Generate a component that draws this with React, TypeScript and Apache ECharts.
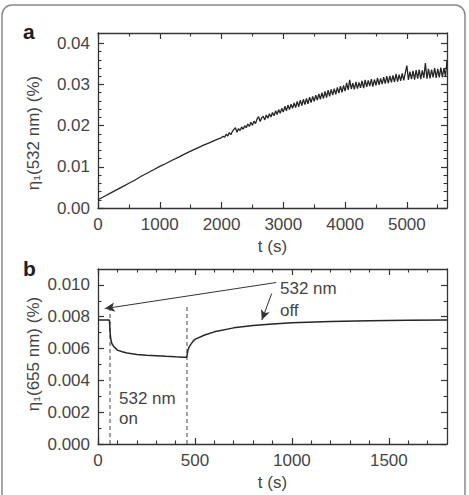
import React, { useEffect, useRef } from "react";
import * as echarts from "echarts";

// Panel a: diffraction efficiency at 532 nm vs time
const aTimesEarly = [0, 100, 200, 300, 400, 500, 600, 700, 800, 900, 1000, 1100, 1200, 1300, 1400, 1500, 1600, 1700, 1800, 1900];
const aValuesEarly = [0.0020, 0.0028, 0.0036, 0.0044, 0.0052, 0.0060, 0.0068, 0.0077, 0.0085, 0.0093, 0.0101, 0.0108, 0.0116, 0.0123, 0.0131, 0.0138, 0.0145, 0.0152, 0.0158, 0.0165];
const aLateStart = 2000;
const aLateStep = 25;
const aValuesLate = [
  0.0171, 0.0174, 0.0172, 0.0179, 0.0175, 0.0183, 0.0178, 0.0186, 0.0191, 0.0195,
  0.0184, 0.0193, 0.0188, 0.0197, 0.0191, 0.0200, 0.0195, 0.0204, 0.0198, 0.0208,
  0.0201, 0.0211, 0.0205, 0.0216, 0.0222, 0.0210, 0.0219, 0.0223, 0.0214, 0.0226,
  0.0218, 0.0229, 0.0221, 0.0232, 0.0224, 0.0236, 0.0227, 0.0239, 0.0230, 0.0242,
  0.0233, 0.0247, 0.0236, 0.0250, 0.0239, 0.0252, 0.0242, 0.0255, 0.0244, 0.0259,
  0.0246, 0.0262, 0.0249, 0.0264, 0.0251, 0.0266, 0.0253, 0.0269, 0.0256, 0.0271,
  0.0259, 0.0274, 0.0262, 0.0277, 0.0264, 0.0280, 0.0266, 0.0283, 0.0268, 0.0286,
  0.0271, 0.0288, 0.0274, 0.0290, 0.0276, 0.0293, 0.0279, 0.0296, 0.0281, 0.0298,
  0.0284, 0.0304, 0.0287, 0.0311, 0.0289, 0.0303, 0.0288, 0.0306, 0.0290, 0.0305,
  0.0292, 0.0309, 0.0291, 0.0311, 0.0294, 0.0310, 0.0296, 0.0313, 0.0295, 0.0312,
  0.0298, 0.0316, 0.0299, 0.0315, 0.0301, 0.0318, 0.0302, 0.0320, 0.0303, 0.0321,
  0.0305, 0.0322, 0.0306, 0.0326, 0.0307, 0.0324, 0.0309, 0.0327, 0.0310, 0.0328,
  0.0346, 0.0311, 0.0331, 0.0313, 0.0333, 0.0312, 0.0335, 0.0314, 0.0336, 0.0313,
  0.0334, 0.0316, 0.0352, 0.0314, 0.0338, 0.0315, 0.0336, 0.0317, 0.0340, 0.0316,
  0.0338, 0.0317, 0.0341, 0.0318, 0.0339, 0.0320, 0.0358,
];

// Panel b: diffraction efficiency at 655 nm vs time
const bTimes = [0, 20, 40, 58, 60, 62, 64, 67, 72, 80, 100, 125, 150, 200, 250, 300, 350, 400, 440, 457, 460, 463, 468, 475, 490, 500, 550, 600, 700, 800, 900, 1000, 1200, 1400, 1600, 1800];
const bValues = [0.0078, 0.0078, 0.0078, 0.0078, 0.0076, 0.0071, 0.0068, 0.0065, 0.0063, 0.00615, 0.0059, 0.0058, 0.00572, 0.00563, 0.00558, 0.00555, 0.00551, 0.00548, 0.00546, 0.00546, 0.00562, 0.00585, 0.00605, 0.0062, 0.00645, 0.00658, 0.00685, 0.00705, 0.0073, 0.00745, 0.00755, 0.00762, 0.0077, 0.00775, 0.00778, 0.0078];
const switchTimes = [62, 459];
const switchLineTop = 0.0087;
// arrows: [from t, from value, to t, to value]
const arrowOnOff = [919, 0.01015, 35, 0.00851];
const arrowOff = [896, 0.00946, 845, 0.00779];

// Tick values
const aMajorX = [0, 1000, 2000, 3000, 4000, 5000];
const aMinorX = [500, 1500, 2500, 3500, 4500, 5500];
const aMajorY = [0, 0.01, 0.02, 0.03, 0.04];
const aMinorY = [0.002, 0.004, 0.006, 0.008, 0.012, 0.014, 0.016, 0.018, 0.022, 0.024, 0.026, 0.028, 0.032, 0.034, 0.036, 0.038];
const bMajorX = [0, 500, 1000, 1500];
const bMinorX = [100, 200, 300, 400, 600, 700, 800, 900, 1100, 1200, 1300, 1400, 1600, 1700];
const bMajorY = [0, 0.002, 0.004, 0.006, 0.008, 0.01];
const bMinorY = [0.001, 0.003, 0.005, 0.007, 0.009];

const FONT = "'Liberation Sans', Arial, Helvetica, sans-serif";
const TEXT = "#454545";
const AXIS = "#333";

function makeAxes(dim: "x" | "y", grid: number, min: number, max: number, major: number[], minor: number[], fmt: (v: number) => string, name?: string) {
  const positions = dim === "x" ? ["bottom", "top"] : ["left", "right"];
  const axes: any[] = [];
  const base = (pos: string) => ({
    type: "value",
    gridIndex: grid,
    min,
    max,
    position: pos,
    splitLine: { show: false },
    axisPointer: { show: false },
  });
  positions.forEach((pos, i) => {
    axes.push({
      ...base(pos),
      axisLine: { show: true, onZero: false, lineStyle: { color: AXIS, width: 1.3 } },
      axisTick: { show: true, inside: true, length: 6, customValues: major, lineStyle: { color: AXIS, width: 1.2 } },
      axisLabel: i === 0
        ? { show: true, customValues: major, formatter: fmt, fontSize: 17, color: TEXT, fontFamily: FONT, margin: 8 }
        : { show: false },
      ...(i === 0 && name
        ? { name, nameLocation: "middle", nameGap: 30, nameTextStyle: { fontSize: 17, color: TEXT, fontFamily: FONT } }
        : {}),
    });
  });
  positions.forEach((pos) => {
    axes.push({
      ...base(pos),
      axisLine: { show: false, onZero: false },
      axisTick: { show: true, inside: true, length: 3.5, customValues: minor, lineStyle: { color: AXIS, width: 1.1 } },
      axisLabel: { show: false },
    });
  });
  return axes;
}

export default function App() {
  const ref = useRef<HTMLDivElement>(null);
  useEffect(() => {
    if (!ref.current) return;
    const chart = echarts.init(ref.current, undefined, { renderer: "svg" });

    const aData: number[][] = aTimesEarly.map((t, i) => [t, aValuesEarly[i]]);
    aValuesLate.forEach((v, i) => aData.push([aLateStart + i * aLateStep, v]));
    const bData = bTimes.map((t, i) => [t, bValues[i]]);

    const xAxis = [
      ...makeAxes("x", 0, 0, 5650, aMajorX, aMinorX, (v) => String(v), "t (s)"),
      ...makeAxes("x", 1, 0, 1800, bMajorX, bMinorX, (v) => String(v), "t (s)"),
    ];
    const yAxis = [
      ...makeAxes("y", 0, 0, 0.0425, aMajorY, aMinorY, (v) => v.toFixed(2)),
      ...makeAxes("y", 1, 0, 0.011, bMajorY, bMinorY, (v) => v.toFixed(3)),
    ];

    const dashed = switchTimes.map((t) => ({
      type: "line",
      xAxisIndex: 4,
      yAxisIndex: 4,
      data: [[t, 0], [t, switchLineTop]],
      showSymbol: false,
      silent: true,
      lineStyle: { color: "#444", width: 1, type: [4, 3] },
      z: 1,
    }));

    const option: any = {
      animation: false,
      grid: [
        { left: 98, top: 33, width: 349, height: 175 },
        { left: 98, top: 269, width: 349, height: 175 },
      ],
      xAxis,
      yAxis,
      series: [
        {
          type: "line",
          xAxisIndex: 0,
          yAxisIndex: 0,
          data: aData,
          showSymbol: false,
          lineStyle: { color: "#262626", width: 1.3 },
        },
        {
          type: "line",
          xAxisIndex: 4,
          yAxisIndex: 4,
          data: bData,
          showSymbol: false,
          lineStyle: { color: "#262626", width: 1.5 },
          markLine: {
            silent: true,
            symbol: ["none", "arrow"],
            symbolSize: [7, 10],
            label: { show: false },
            lineStyle: { color: "#333", width: 1, type: "solid" },
            data: [
              [{ coord: [arrowOnOff[0], arrowOnOff[1]] }, { coord: [arrowOnOff[2], arrowOnOff[3]] }],
              [{ coord: [arrowOff[0], arrowOff[1]] }, { coord: [arrowOff[2], arrowOff[3]] }],
            ],
          },
        },
        ...dashed,
      ],
      graphic: [
        {
          type: "rect",
          shape: { x: 2, y: 5, width: 463, height: 540, r: 10 },
          style: { fill: "none", stroke: "#8a8a8a", lineWidth: 1.5 },
          silent: true,
        },
        { type: "text", x: 23, y: 31, style: { text: "a", font: `bold 21px ${FONT}`, fill: "#1e1e1e", textVerticalAlign: "middle" } },
        { type: "text", x: 23, y: 268, style: { text: "b", font: `bold 21px ${FONT}`, fill: "#1e1e1e", textVerticalAlign: "middle" } },
        { type: "text", x: 33, y: 133, rotation: Math.PI / 2, style: { text: "η₁(532 nm) (%)", font: `17px ${FONT}`, fill: TEXT, textAlign: "center", textVerticalAlign: "middle" } },
        { type: "text", x: 33, y: 354, rotation: Math.PI / 2, style: { text: "η₁(655 nm) (%)", font: `17px ${FONT}`, fill: TEXT, textAlign: "center", textVerticalAlign: "middle" } },
        { type: "text", x: 280, y: 288, style: { text: "532 nm", font: `17px ${FONT}`, fill: TEXT, textVerticalAlign: "middle" } },
        { type: "text", x: 280, y: 310, style: { text: "off", font: `17px ${FONT}`, fill: TEXT, textVerticalAlign: "middle" } },
        { type: "text", x: 119, y: 398, style: { text: "532 nm", font: `17px ${FONT}`, fill: TEXT, textVerticalAlign: "middle" } },
        { type: "text", x: 119, y: 418, style: { text: "on", font: `17px ${FONT}`, fill: TEXT, textVerticalAlign: "middle" } },
      ],
    };
    chart.setOption(option);
    return () => chart.dispose();
  }, []);
  return <div ref={ref} style={{ position: "absolute", left: 0, top: 0, width: 469, height: 495, background: "#fff" }} />;
}
